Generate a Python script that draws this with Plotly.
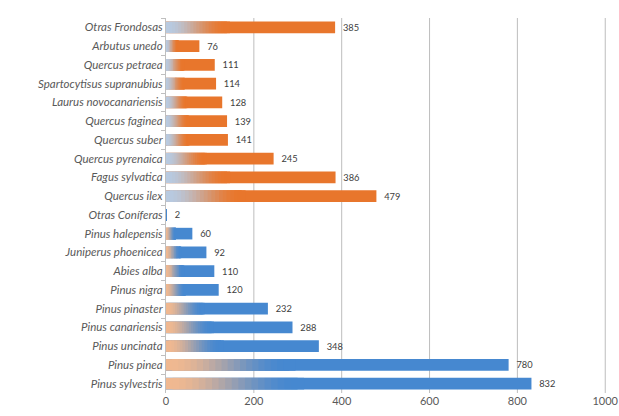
import plotly.graph_objects as go

# Species (top to bottom) and their counts
especies = [
    "Otras Frondosas", "Arbutus unedo", "Quercus petraea", "Spartocytisus supranubius",
    "Laurus novocanariensis", "Quercus faginea", "Quercus suber", "Quercus pyrenaica",
    "Fagus sylvatica", "Quercus ilex",
    "Otras Coníferas", "Pinus halepensis", "Juniperus phoenicea", "Abies alba",
    "Pinus nigra", "Pinus pinaster", "Pinus canariensis", "Pinus uncinata",
    "Pinus pinea", "Pinus sylvestris",
]
valores = [385, 76, 111, 114, 128, 139, 141, 245, 386, 479,
           2, 60, 92, 110, 120, 232, 288, 348, 780, 832]
grupo = ["frondosa"] * 10 + ["conifera"] * 10
x_ticks = [0, 200, 400, 600, 800, 1000]

main_color = {"frondosa": (232, 118, 44), "conifera": (70, 136, 208)}
tint_color = {"frondosa": (184, 202, 224), "conifera": (240, 184, 144)}


def rgb(c):
    return "rgb(%d,%d,%d)" % c


def mix(a, b, t):
    return tuple(round(a[i] + (b[i] - a[i]) * t) for i in range(3))


fig = go.Figure()

# Solid bar with value label
fig.add_trace(go.Bar(
    y=especies, x=valores, orientation="h", width=0.62,
    marker=dict(color=[rgb(main_color[g]) for g in grupo], line=dict(width=0)),
    text=["  " + str(v) for v in valores], textposition="outside", cliponaxis=False,
    textfont=dict(family="Lato", size=12, color="#404040"),
    showlegend=False, hoverinfo="skip",
))

# Gradient at the start of each bar: each slice is two steps long, so its
# right edge is always hidden under the next slice (no seams); eased so the
# colour settles smoothly into the solid part
frac = 0.36
steps = 20
for k in range(steps):
    s = k / (steps - 1)
    t = s * s * (3 - 2 * s)
    fig.add_trace(go.Bar(
        y=especies,
        x=[v * frac * 2 / steps for v in valores],
        base=[v * frac * k / steps for v in valores],
        orientation="h", width=0.62,
        marker=dict(color=[rgb(mix(tint_color[g], main_color[g], t)) for g in grupo],
                    line=dict(width=0)),
        showlegend=False, hoverinfo="skip",
    ))

# Vertical gridlines at every labelled tick except the axis origin
for xv in x_ticks[1:]:
    fig.add_shape(type="line", xref="x", yref="paper", x0=xv, x1=xv, y0=0, y1=1,
                  line=dict(color="#BDBDBD", width=1), layer="below")

fig.update_layout(
    width=619, height=416,
    margin=dict(l=166, r=12, t=18, b=23, autoexpand=False),
    barmode="overlay",
    paper_bgcolor="white", plot_bgcolor="white",
    font=dict(family="Lato", color="#595959"),
    xaxis=dict(range=[0, 1004], tickvals=x_ticks, showgrid=False, automargin=False,
               zeroline=False, showline=False, ticks="", ticklabeloverflow="allow",
               tickfont=dict(size=11, color="#595959")),
    yaxis=dict(categoryorder="array", categoryarray=especies, autorange="reversed",
               showline=True, linecolor="#BFBFBF", linewidth=1, automargin=False,
               ticks="outside", tickson="boundaries", ticklen=4, tickcolor="#BFBFBF",
               tickfont=dict(size=11.5, color="#595959", style="italic"),
               showgrid=False),
)

fig.write_html("out.html")
